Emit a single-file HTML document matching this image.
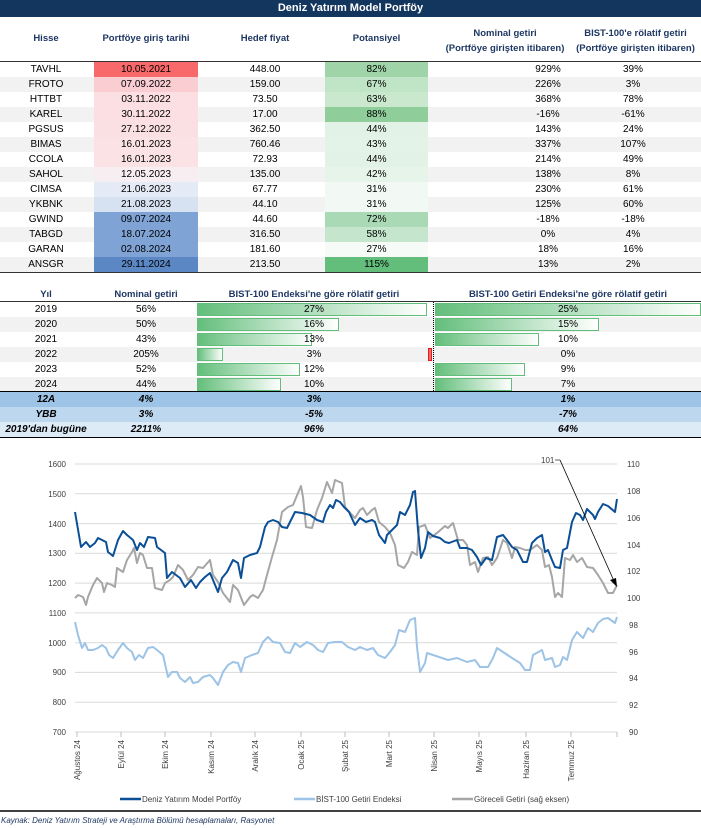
<!DOCTYPE html>
<html><head><meta charset="utf-8">
<style>
*{margin:0;padding:0;box-sizing:border-box}
body{width:701px;height:828px;background:#fff;position:relative;overflow:hidden;font-family:"Liberation Sans",sans-serif;font-size:10px;color:#000}
.a{position:absolute}
.t{position:absolute;text-align:center;white-space:nowrap}
.h{font-weight:bold;color:#1f3864;font-size:9.5px}
.row{position:absolute;left:0;width:701px;height:15px}
.c{position:absolute;top:0;height:15px;line-height:15px;text-align:center;font-size:10px;white-space:nowrap}
</style></head><body>
<div class="a" style="left:0;top:0;width:701px;height:17px;background:#13365f;color:#fff;font-weight:bold;font-size:11px;text-align:center;line-height:17px">Deniz Yatırım Model Portföy</div>
<div class="t h" style="left:0;width:92px;top:33px">Hisse</div>
<div class="t h" style="left:94;left:94px;width:104px;top:33px">Portföye giriş tarihi</div>
<div class="t h" style="left:215px;width:100px;top:33px">Hedef fiyat</div>
<div class="t h" style="left:325px;width:103px;top:33px">Potansiyel</div>
<div class="t h" style="left:430px;width:150px;top:26px;line-height:15px">Nominal getiri<br>(Portföye girişten itibaren)</div>
<div class="t h" style="left:570px;width:131px;top:26px;line-height:15px">BIST-100'e rölatif getiri<br>(Portföye girişten itibaren)</div>
<div class="a" style="left:0;top:61px;width:701px;height:1px;background:#333"></div>

<div class="row" style="top:62px"><div class="c" style="left:0;width:92px">TAVHL</div><div class="c" style="left:94px;width:104px;background:#f8696b">10.05.2021</div><div class="c" style="left:215px;width:100px">448.00</div><div class="c" style="left:325px;width:103px;background:#9ed4a8">82%</div><div class="c" style="left:473px;width:150px">929%</div><div class="c" style="left:583px;width:100px">39%</div></div>
<div class="row" style="top:77px;background:#f2f2f2"><div class="c" style="left:0;width:92px">FROTO</div><div class="c" style="left:94px;width:104px;background:#f9cdd2">07.09.2022</div><div class="c" style="left:215px;width:100px">159.00</div><div class="c" style="left:325px;width:103px;background:#c0e4c6">67%</div><div class="c" style="left:473px;width:150px">226%</div><div class="c" style="left:583px;width:100px">3%</div></div>
<div class="row" style="top:92px"><div class="c" style="left:0;width:92px">HTTBT</div><div class="c" style="left:94px;width:104px;background:#fbdfe2">03.11.2022</div><div class="c" style="left:215px;width:100px">73.50</div><div class="c" style="left:325px;width:103px;background:#c9e8ce">63%</div><div class="c" style="left:473px;width:150px">368%</div><div class="c" style="left:583px;width:100px">78%</div></div>
<div class="row" style="top:107px;background:#f2f2f2"><div class="c" style="left:0;width:92px">KAREL</div><div class="c" style="left:94px;width:104px;background:#fbdfe2">30.11.2022</div><div class="c" style="left:215px;width:100px">17.00</div><div class="c" style="left:325px;width:103px;background:#8fcd9b">88%</div><div class="c" style="left:473px;width:150px">-16%</div><div class="c" style="left:583px;width:100px">-61%</div></div>
<div class="row" style="top:122px"><div class="c" style="left:0;width:92px">PGSUS</div><div class="c" style="left:94px;width:104px;background:#fbe0e3">27.12.2022</div><div class="c" style="left:215px;width:100px">362.50</div><div class="c" style="left:325px;width:103px;background:#e3f2e6">44%</div><div class="c" style="left:473px;width:150px">143%</div><div class="c" style="left:583px;width:100px">24%</div></div>
<div class="row" style="top:137px;background:#f2f2f2"><div class="c" style="left:0;width:92px">BIMAS</div><div class="c" style="left:94px;width:104px;background:#fbe2e5">16.01.2023</div><div class="c" style="left:215px;width:100px">760.46</div><div class="c" style="left:325px;width:103px;background:#e4f3e7">43%</div><div class="c" style="left:473px;width:150px">337%</div><div class="c" style="left:583px;width:100px">107%</div></div>
<div class="row" style="top:152px"><div class="c" style="left:0;width:92px">CCOLA</div><div class="c" style="left:94px;width:104px;background:#fbe2e5">16.01.2023</div><div class="c" style="left:215px;width:100px">72.93</div><div class="c" style="left:325px;width:103px;background:#e3f2e6">44%</div><div class="c" style="left:473px;width:150px">214%</div><div class="c" style="left:583px;width:100px">49%</div></div>
<div class="row" style="top:167px;background:#f2f2f2"><div class="c" style="left:0;width:92px">SAHOL</div><div class="c" style="left:94px;width:104px;background:#f7eef2">12.05.2023</div><div class="c" style="left:215px;width:100px">135.00</div><div class="c" style="left:325px;width:103px;background:#e6f4e9">42%</div><div class="c" style="left:473px;width:150px">138%</div><div class="c" style="left:583px;width:100px">8%</div></div>
<div class="row" style="top:182px"><div class="c" style="left:0;width:92px">CIMSA</div><div class="c" style="left:94px;width:104px;background:#e4ebf6">21.06.2023</div><div class="c" style="left:215px;width:100px">67.77</div><div class="c" style="left:325px;width:103px;background:#f2f9f4">31%</div><div class="c" style="left:473px;width:150px">230%</div><div class="c" style="left:583px;width:100px">61%</div></div>
<div class="row" style="top:197px;background:#f2f2f2"><div class="c" style="left:0;width:92px">YKBNK</div><div class="c" style="left:94px;width:104px;background:#d6e1f2">21.08.2023</div><div class="c" style="left:215px;width:100px">44.10</div><div class="c" style="left:325px;width:103px;background:#f2f9f4">31%</div><div class="c" style="left:473px;width:150px">125%</div><div class="c" style="left:583px;width:100px">60%</div></div>
<div class="row" style="top:212px"><div class="c" style="left:0;width:92px">GWIND</div><div class="c" style="left:94px;width:104px;background:#7fa3d5">09.07.2024</div><div class="c" style="left:215px;width:100px">44.60</div><div class="c" style="left:325px;width:103px;background:#a9dab5">72%</div><div class="c" style="left:473px;width:150px">-18%</div><div class="c" style="left:583px;width:100px">-18%</div></div>
<div class="row" style="top:227px;background:#f2f2f2"><div class="c" style="left:0;width:92px">TABGD</div><div class="c" style="left:94px;width:104px;background:#7fa3d5">18.07.2024</div><div class="c" style="left:215px;width:100px">316.50</div><div class="c" style="left:325px;width:103px;background:#c5e6cc">58%</div><div class="c" style="left:473px;width:150px">0%</div><div class="c" style="left:583px;width:100px">4%</div></div>
<div class="row" style="top:242px"><div class="c" style="left:0;width:92px">GARAN</div><div class="c" style="left:94px;width:104px;background:#7fa3d5">02.08.2024</div><div class="c" style="left:215px;width:100px">181.60</div><div class="c" style="left:325px;width:103px;background:#f7fbf8">27%</div><div class="c" style="left:473px;width:150px">18%</div><div class="c" style="left:583px;width:100px">16%</div></div>
<div class="row" style="top:257px;background:#f2f2f2"><div class="c" style="left:0;width:92px">ANSGR</div><div class="c" style="left:94px;width:104px;background:#5b87c5">29.11.2024</div><div class="c" style="left:215px;width:100px">213.50</div><div class="c" style="left:325px;width:103px;background:#63be7b">115%</div><div class="c" style="left:473px;width:150px">13%</div><div class="c" style="left:583px;width:100px">2%</div></div>
<div class="a" style="left:0;top:272px;width:701px;height:1px;background:#333"></div>

<!-- second table -->
<div class="t h" style="left:0;width:92px;top:289px">Yıl</div>
<div class="t h" style="left:94px;width:104px;top:289px">Nominal getiri</div>
<div class="t h" style="left:197px;width:234px;top:289px">BIST-100 Endeksi'ne göre rölatif getiri</div>
<div class="t h" style="left:435px;width:266px;top:289px">BIST-100 Getiri Endeksi'ne göre rölatif getiri</div>
<div class="a" style="left:0;top:301px;width:701px;height:1px;background:#333"></div>
<div class="row" style="top:302px"></div>
<div class="row" style="top:317px;background:#f2f2f2"></div>
<div class="row" style="top:332px"></div>
<div class="row" style="top:347px;background:#f2f2f2"></div>
<div class="row" style="top:362px"></div>
<div class="row" style="top:377px;background:#f2f2f2"></div>
<svg class="a" style="left:0;top:0" width="701" height="440">
<defs><linearGradient id="g" x1="0" x2="1"><stop offset="0" stop-color="#63be7b"/><stop offset="1" stop-color="#fff"/></linearGradient></defs>
<g stroke="#63be7b" stroke-width="1" fill="url(#g)">
<rect x="197.5" y="303.5" width="229" height="12"/>
<rect x="197.5" y="318.5" width="141" height="12"/>
<rect x="197.5" y="333.5" width="114" height="12"/>
<rect x="197.5" y="348.5" width="25" height="12"/>
<rect x="197.5" y="363.5" width="102" height="12"/>
<rect x="197.5" y="378.5" width="83" height="12"/>
<rect x="435.5" y="303.5" width="265" height="12"/>
<rect x="435.5" y="318.5" width="163" height="12"/>
<rect x="435.5" y="333.5" width="103" height="12"/>
<rect x="435.5" y="363.5" width="89" height="12"/>
<rect x="435.5" y="378.5" width="76" height="12"/>
</g>
<rect x="428.5" y="348.5" width="3" height="12" fill="#f8696b" stroke="#e02020"/>
<line x1="433.5" y1="302" x2="433.5" y2="392" stroke="#000" stroke-dasharray="1,1"/>
</svg>
<div class="row" style="top:302px"><div class="c" style="left:0;width:92px">2019</div><div class="c" style="left:94px;width:104px">56%</div><div class="c" style="left:197px;width:234px">27%</div><div class="c" style="left:435px;width:266px">25%</div></div>
<div class="row" style="top:317px"><div class="c" style="left:0;width:92px">2020</div><div class="c" style="left:94px;width:104px">50%</div><div class="c" style="left:197px;width:234px">16%</div><div class="c" style="left:435px;width:266px">15%</div></div>
<div class="row" style="top:332px"><div class="c" style="left:0;width:92px">2021</div><div class="c" style="left:94px;width:104px">43%</div><div class="c" style="left:197px;width:234px">13%</div><div class="c" style="left:435px;width:266px">10%</div></div>
<div class="row" style="top:347px"><div class="c" style="left:0;width:92px">2022</div><div class="c" style="left:94px;width:104px">205%</div><div class="c" style="left:197px;width:234px">3%</div><div class="c" style="left:435px;width:266px">0%</div></div>
<div class="row" style="top:362px"><div class="c" style="left:0;width:92px">2023</div><div class="c" style="left:94px;width:104px">52%</div><div class="c" style="left:197px;width:234px">12%</div><div class="c" style="left:435px;width:266px">9%</div></div>
<div class="row" style="top:377px"><div class="c" style="left:0;width:92px">2024</div><div class="c" style="left:94px;width:104px">44%</div><div class="c" style="left:197px;width:234px">10%</div><div class="c" style="left:435px;width:266px">7%</div></div>
<div class="a" style="left:0;top:391px;width:701px;height:1.5px;background:#000"></div>
<div class="row" style="top:392px;background:#9dc3e6;font-weight:bold;font-style:italic"><div class="c" style="left:0;width:92px">12A</div><div class="c" style="left:94px;width:104px">4%</div><div class="c" style="left:197px;width:234px">3%</div><div class="c" style="left:435px;width:266px">1%</div></div>
<div class="row" style="top:407px;background:#bdd7ee;font-weight:bold;font-style:italic"><div class="c" style="left:0;width:92px">YBB</div><div class="c" style="left:94px;width:104px">3%</div><div class="c" style="left:197px;width:234px">-5%</div><div class="c" style="left:435px;width:266px">-7%</div></div>
<div class="row" style="top:422px;background:#ddebf7;font-weight:bold;font-style:italic"><div class="c" style="left:0;width:92px">2019'dan bugüne</div><div class="c" style="left:94px;width:104px">2211%</div><div class="c" style="left:197px;width:234px">96%</div><div class="c" style="left:435px;width:266px">64%</div></div>
<div class="a" style="left:0;top:437px;width:701px;height:1px;background:#000"></div>

<svg class="a" style="left:0;top:0" width="701" height="828" font-family="Liberation Sans, sans-serif">
<g stroke="#d9d9d9" stroke-width="1">
<line x1="75" x2="617" y1="464" y2="464"/><line x1="75" x2="617" y1="493.8" y2="493.8"/><line x1="75" x2="617" y1="523.6" y2="523.6"/><line x1="75" x2="617" y1="553.3" y2="553.3"/><line x1="75" x2="617" y1="583.1" y2="583.1"/><line x1="75" x2="617" y1="612.9" y2="612.9"/><line x1="75" x2="617" y1="642.7" y2="642.7"/><line x1="75" x2="617" y1="672.4" y2="672.4"/><line x1="75" x2="617" y1="702.2" y2="702.2"/><line x1="75" x2="617" y1="732" y2="732"/>
</g>
<g stroke="#bfbfbf"><line x1="77" y1="732" x2="77" y2="737"/><line x1="121" y1="732" x2="121" y2="737"/><line x1="165" y1="732" x2="165" y2="737"/><line x1="211" y1="732" x2="211" y2="737"/><line x1="255" y1="732" x2="255" y2="737"/><line x1="301" y1="732" x2="301" y2="737"/><line x1="345" y1="732" x2="345" y2="737"/><line x1="389" y1="732" x2="389" y2="737"/><line x1="434" y1="732" x2="434" y2="737"/><line x1="479" y1="732" x2="479" y2="737"/><line x1="526" y1="732" x2="526" y2="737"/><line x1="571" y1="732" x2="571" y2="737"/><line x1="617" y1="732" x2="617" y2="737"/></g>
<g font-size="8" fill="#404040" text-anchor="end">
<text x="66" y="467">1600</text><text x="66" y="497">1500</text><text x="66" y="527">1400</text><text x="66" y="556">1300</text><text x="66" y="586">1200</text><text x="66" y="616">1100</text><text x="66" y="646">1000</text><text x="66" y="675">900</text><text x="66" y="705">800</text><text x="66" y="735">700</text>
</g>
<g font-size="8" fill="#404040">
<text x="627" y="467">110</text><text x="627" y="494">108</text><text x="627" y="521">106</text><text x="627" y="548">104</text><text x="627" y="574">102</text><text x="627" y="601">100</text><text x="629" y="628">98</text><text x="629" y="655">96</text><text x="629" y="681">94</text><text x="629" y="708">92</text><text x="629" y="735">90</text>
</g>
<g font-size="8" fill="#404040" text-anchor="end">
<text transform="translate(80,740) rotate(-90)">Ağustos 24</text>
<text transform="translate(124,740) rotate(-90)">Eylül 24</text>
<text transform="translate(168,740) rotate(-90)">Ekim 24</text>
<text transform="translate(214,740) rotate(-90)">Kasım 24</text>
<text transform="translate(258,740) rotate(-90)">Aralık 24</text>
<text transform="translate(304,740) rotate(-90)">Ocak 25</text>
<text transform="translate(348,740) rotate(-90)">Şubat 25</text>
<text transform="translate(392,740) rotate(-90)">Mart 25</text>
<text transform="translate(437,740) rotate(-90)">Nisan 25</text>
<text transform="translate(482,740) rotate(-90)">Mayıs 25</text>
<text transform="translate(529,740) rotate(-90)">Haziran 25</text>
<text transform="translate(574,740) rotate(-90)">Temmuz 25</text>
</g>
<g fill="none" stroke-width="2" stroke-linejoin="round">
<polyline stroke="#9dc3e6" points="75,622 78,635 82,648 85,643 88,650 93,650 98,648 102,645 106,648 109,655 113,658 118,650 123,643 127,648 132,652 135,660 139,655 143,658 148,648 153,647 157,650 163,655 168,677 172,672 177,672 180,678 185,682 190,677 193,683 198,682 203,677 210,675 213,678 218,685 223,672 228,665 233,662 238,663 241,672 245,658 252,655 258,653 263,642 268,637 273,642 280,643 285,652 290,653 295,643 300,647 307,642 313,645 318,650 323,652 328,643 335,642 342,642 348,647 355,650 360,647 367,650 373,648 378,655 385,658 390,652 395,645 399,630 405,632 410,620 415,618 417,647 420,672 425,663 427,653 433,655 442,658 448,660 457,658 467,662 475,660 480,667 488,667 493,658 497,648 503,652 512,658 520,663 525,670 530,670 533,655 542,650 545,660 552,658 555,667 560,665 563,657 567,660 572,640 577,632 583,638 588,628 593,632 598,623 603,619 608,618 615,623 617,617"/>
<polyline stroke="#a6a6a6" points="75,598 78,595 83,597 86,605 88,597 93,585 97,578 102,583 104,592 107,583 112,585 115,587 117,568 123,572 127,560 132,552 134,548 137,563 140,553 143,555 147,568 152,568 155,588 162,590 165,583 170,580 173,577 178,565 183,570 188,580 193,575 198,567 203,568 210,560 213,575 218,582 223,593 230,602 233,585 238,590 244,605 250,597 253,595 258,598 263,590 267,575 272,557 277,540 282,512 288,507 293,505 298,493 301,486 303,497 306,527 312,528 317,510 322,498 327,482 332,493 335,480 342,483 345,507 352,515 355,518 360,510 363,508 367,515 372,510 375,508 379,522 385,527 390,533 395,545 398,565 404,568 408,562 412,552 417,555 419,527 425,525 430,538 437,533 445,526 448,528 453,523 458,540 463,540 467,545 470,565 475,562 478,572 483,558 488,557 492,565 497,558 503,540 507,543 512,558 515,547 520,548 525,550 530,550 537,545 542,550 545,567 549,565 552,577 555,597 558,593 562,597 565,558 570,560 573,555 577,562 582,558 587,567 593,568 598,575 603,583 608,593 613,593 617,585"/>
<polyline stroke="#0b4f96" points="75,512 81,547 86,542 90,547 95,543 98,538 102,540 106,542 108,552 113,556 118,540 123,531 127,535 133,540 137,550 140,543 144,547 148,537 155,538 157,547 165,553 167,578 172,572 176,575 180,578 185,587 191,580 196,588 200,582 205,577 210,573 213,580 218,592 222,578 227,572 233,560 238,563 241,578 244,558 250,555 257,553 260,547 265,527 268,522 273,520 278,522 282,527 287,528 292,518 295,512 302,513 310,515 317,520 323,522 326,512 330,505 333,508 336,500 340,502 344,507 349,512 355,525 360,518 366,522 372,520 375,522 379,535 385,543 387,535 393,529 397,525 400,512 405,515 410,505 413,492 415,491 418,530 421,558 425,548 428,532 433,536 440,538 445,542 449,543 457,540 460,548 467,548 472,550 477,557 481,565 486,558 492,560 497,537 503,535 507,540 512,547 517,550 523,562 527,562 532,543 537,538 542,535 545,552 548,550 552,560 555,567 560,568 563,550 567,548 572,522 576,513 580,515 583,520 587,509 593,515 595,519 598,512 603,504 608,506 615,512 617,499"/>
</g>
<text x="541" y="463" font-size="8" fill="#404040">101</text>
<line x1="555" y1="460" x2="560" y2="460" stroke="#404040" stroke-width="0.8"/>
<line x1="560" y1="460" x2="614" y2="581" stroke="#000" stroke-width="0.8"/>
<polygon points="617,587 610,580 616,578" fill="#000"/>
<g font-size="8" fill="#404040">
<line x1="120" y1="799" x2="141" y2="799" stroke="#0b4f96" stroke-width="2.5"/><text x="142" y="802">Deniz Yatırım Model Portföy</text>
<line x1="294" y1="799" x2="315" y2="799" stroke="#9dc3e6" stroke-width="2.5"/><text x="316" y="802">BİST-100 Getiri Endeksi</text>
<line x1="452" y1="799" x2="473" y2="799" stroke="#a6a6a6" stroke-width="2.5"/><text x="474" y="802">Göreceli Getiri (sağ eksen)</text>
</g>
<line x1="0" y1="811" x2="701" y2="811" stroke="#000" stroke-width="1.5"/>
<text x="1" y="823" font-size="8" font-style="italic" fill="#1f3864">Kaynak: Deniz Yatırım Strateji ve Araştırma Bölümü hesaplamaları, Rasyonet</text>
</svg>
</body></html>
